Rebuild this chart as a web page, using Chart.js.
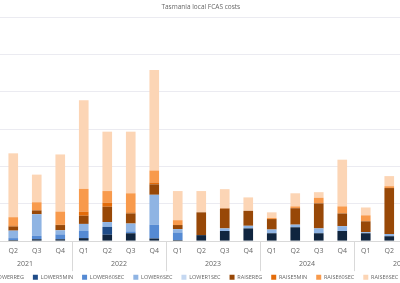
<!DOCTYPE html>
<html>
<head>
<meta charset="utf-8">
<script src="https://cdn.jsdelivr.net/npm/chart.js@4"></script>
<style>
  html, body { margin: 0; padding: 0; background: #fff; }
  #wrap { position: relative; width: 400px; height: 283px; overflow: hidden; }
  #inner { position: absolute; left: -22px; top: 0; width: 540px; height: 283px; }
</style>
</head>
<body>
<div id="wrap"><div id="inner"><canvas id="chart" width="540" height="283"></canvas></div></div>
<script>
const quarters = ['Q1','Q2','Q3','Q4','Q1','Q2','Q3','Q4','Q1','Q2','Q3','Q4','Q1','Q2','Q3','Q4','Q1','Q2','Q3','Q4'];
const years = ['2021','2021','2021','2021','2022','2022','2022','2022','2023','2023','2023','2023','2024','2024','2024','2024','2025','2025','2025','2025'];

// quarterly costs, one value per quarter
const lowerReg   = [null, 0.03, 0.05, 0.05, 0.08, 0.17, 0.21, 0.07, 0.03, 0.16, 0.27, 0.34, 0.21, 0.37, 0.21, 0.27, 0.21, 0.13, null, null];
const lower5Min  = [null, 0, 0, 0, 0, 0.21, 0, 0, 0, 0, 0, 0, 0, 0, 0, 0, 0, 0, null, null];
const lower60Sec = [null, 0.05, 0.09, 0.13, 0.19, 0, 0.05, 0.37, 0.20, 0, 0, 0, 0, 0, 0, 0, 0, 0, null, null];
const lower6Sec  = [null, 0.20, 0.58, 0.11, 0.19, 0.13, 0.21, 0.80, 0.09, 0, 0.07, 0.07, 0.10, 0.07, 0.13, 0.13, 0.03, 0.06, null, null];
const lower1Sec  = [null, 0, 0, 0, 0, 0, 0, 0, 0, 0, 0, 0, 0, 0, 0, 0, 0, 0, null, null];
const raiseReg   = [null, 0.11, 0.10, 0.14, 0.22, 0.41, 0.27, 0.28, 0.11, 0.61, 0.53, 0.40, 0.28, 0.44, 0.67, 0.34, 0.29, 1.23, null, null];
const raise5Min  = [null, 0.03, 0.01, 0.01, 0.11, 0.11, 0.03, 0.05, 0, 0, 0.01, 0, 0, 0, 0, 0, 0, 0, null, null];
const raise60Sec = [null, 0.22, 0.21, 0.35, 0.61, 0.31, 0.51, 0.32, 0.13, 0, 0, 0, 0.03, 0.05, 0.15, 0.19, 0.16, 0.05, null, null];
const raise6Sec  = [null, 1.71, 0.74, 1.53, 2.37, 1.59, 1.65, 2.69, 0.78, 0.57, 0.51, 0.36, 0.15, 0.35, 0.15, 1.25, 0.21, 0.27, null, null];
const raise1Sec  = [null, 0, 0, 0, 0, 0, 0, 0, 0, 0, 0, 0, 0, 0, 0, 0, 0, 0, null, null];

const chartTitle = 'Tasmania local FCAS costs';
const textColor = '#666666';
const font = 'Open Sans';

// title + year row + separators under the quarter labels
const yearGroups = {
    id: 'yearGroups',
    afterDraw(chart) {
        const ctx = chart.ctx;
        const x = chart.scales.x;
        const area = chart.chartArea;
        const step = (x.right - x.left) / quarters.length;
        const top = area.bottom;
        ctx.save();
        ctx.fillStyle = textColor;
        ctx.textAlign = 'center';
        ctx.textBaseline = 'middle';
        ctx.font = '6.5px "' + font + '"';
        ctx.fillText(chartTitle, area.left + area.width * 0.474, 7.5);

        ctx.font = '7px "' + font + '"';
        ctx.strokeStyle = '#d9d9d9';
        ctx.lineWidth = 1;
        let start = 0;
        for (let i = 1; i <= years.length; i++) {
            if (i === years.length || years[i] !== years[start]) {
                const left = x.getPixelForValue(start) - step / 2;
                const right = x.getPixelForValue(i - 1) + step / 2;
                [left, right].forEach(px => {
                    ctx.beginPath();
                    ctx.moveTo(Math.round(px) + 0.5, top);
                    ctx.lineTo(Math.round(px) + 0.5, top + 30);
                    ctx.stroke();
                });
                ctx.fillText(years[start], (left + right) / 2, top + 23);
                start = i;
            }
        }
        ctx.restore();
    }
};

const ctx = document.getElementById('chart').getContext('2d');
new Chart(ctx, {
    type: 'bar',
    data: {
        labels: quarters,
        datasets: [
            { label: 'LOWERREG', data: lowerReg, backgroundColor: '#10253f' },
            { label: 'LOWER5MIN', data: lower5Min, backgroundColor: '#1f4c88' },
            { label: 'LOWER60SEC', data: lower60Sec, backgroundColor: '#558ad3' },
            { label: 'LOWER6SEC', data: lower6Sec, backgroundColor: '#8fb4e3' },
            { label: 'LOWER1SEC', data: lower1Sec, backgroundColor: '#c5d8f1' },
            { label: 'RAISEREG', data: raiseReg, backgroundColor: '#984807' },
            { label: 'RAISE5MIN', data: raise5Min, backgroundColor: '#e36c0a' },
            { label: 'RAISE60SEC', data: raise60Sec, backgroundColor: '#f89a4c' },
            { label: 'RAISE6SEC', data: raise6Sec, backgroundColor: '#fcd5b5' },
            { label: 'RAISE1SEC', data: raise1Sec, backgroundColor: '#fde9d9' }
        ]
    },
    options: {
        responsive: false,
        animation: false,
        maintainAspectRatio: false,
        layout: { padding: { left: 0, right: 0, top: 17, bottom: -7 } },
        datasets: { bar: { categoryPercentage: 1, barPercentage: 0.41 } },
        plugins: {
            legend: {
                position: 'bottom',
                align: 'start',
                labels: {
                    boxWidth: 5,
                    boxHeight: 5,
                    padding: 9,
                    color: textColor,
                    font: { family: font, size: 5.5 }
                }
            },
            tooltip: { enabled: false }
        },
        scales: {
            x: {
                stacked: true,
                grid: { display: false, drawTicks: false },
                border: { display: true, color: '#d9d9d9' },
                ticks: { color: textColor, font: { family: font, size: 7 }, padding: 6, maxRotation: 0, autoSkip: false },
                afterFit(scale) { scale.height += 4; }
            },
            y: {
                stacked: true,
                min: 0,
                max: 6,
                ticks: { display: false, stepSize: 1 },
                grid: { color: '#ebebf1', drawTicks: false },
                border: { display: false },
                afterFit(scale) { scale.width = 0; }
            },
            yRight: {
                position: 'right',
                ticks: { display: false },
                grid: { display: false, drawTicks: false },
                border: { display: false },
                afterFit(scale) { scale.width = 70; }
            }
        }
    },
    plugins: [yearGroups]
});
</script>
</body>
</html>
